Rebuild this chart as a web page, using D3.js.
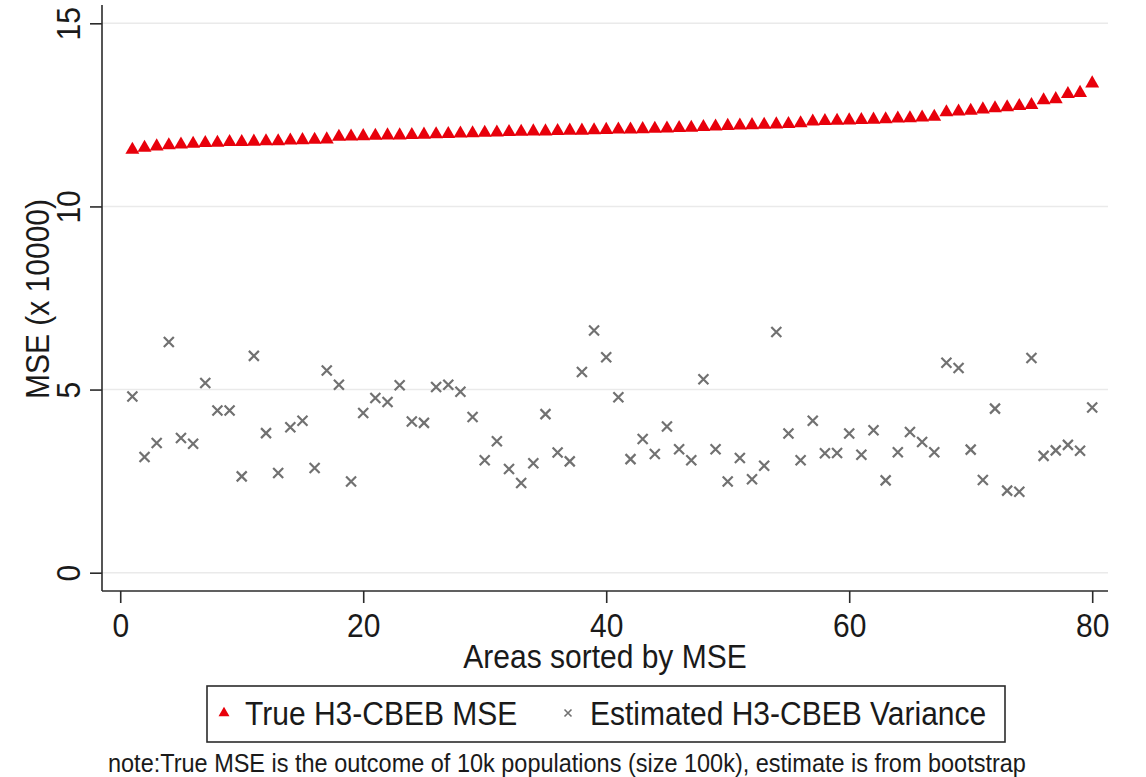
<!DOCTYPE html>
<html>
<head>
<meta charset="utf-8">
<script src="https://cdn.jsdelivr.net/npm/d3@7"></script>
<style>
  html, body { margin: 0; padding: 0; background: #ffffff; }
  svg { display: block; font-family: "Liberation Sans", Arial, sans-serif; }
</style>
</head>
<body>
<svg id="chart" width="1146" height="777"></svg>
<script>
// ---- data ----
const areas = d3.range(1, 81);
const trueMSE = [
  11.55, 11.60, 11.64, 11.67, 11.69, 11.71, 11.73, 11.74, 11.76, 11.76,
  11.77, 11.78, 11.78, 11.80, 11.81, 11.82, 11.83, 11.90, 11.91, 11.92,
  11.93, 11.94, 11.94, 11.95, 11.96, 11.97, 11.98, 11.99, 12.00, 12.01,
  12.02, 12.03, 12.04, 12.05, 12.05, 12.06, 12.07, 12.07, 12.08, 12.09,
  12.10, 12.10, 12.11, 12.12, 12.13, 12.14, 12.15, 12.17, 12.18, 12.20,
  12.21, 12.22, 12.23, 12.24, 12.25, 12.27, 12.32, 12.33, 12.34, 12.35,
  12.36, 12.37, 12.38, 12.40, 12.41, 12.43, 12.45, 12.57, 12.59, 12.61,
  12.65, 12.68, 12.71, 12.74, 12.77, 12.90, 12.93, 13.07, 13.10, 13.36
];
const estVariance = [
  4.81, 3.16, 3.54, 6.30, 3.68, 3.52, 5.18, 4.43, 4.43, 2.63,
  5.92, 3.81, 2.72, 3.97, 4.15, 2.86, 5.52, 5.13, 2.49, 4.36,
  4.77, 4.66, 5.12, 4.13, 4.09, 5.07, 5.13, 4.94, 4.25, 3.07,
  3.59, 2.83, 2.45, 2.99, 4.33, 3.28, 3.04, 5.48, 6.61, 5.88,
  4.79, 3.10, 3.65, 3.24, 3.99, 3.37, 3.07, 5.28, 3.37, 2.49,
  3.13, 2.55, 2.92, 6.57, 3.80, 3.07, 4.15, 3.26, 3.27, 3.80,
  3.22, 3.89, 2.52, 3.29, 3.84, 3.57, 3.29, 5.73, 5.59, 3.36,
  2.53, 4.48, 2.24, 2.21, 5.86, 3.19, 3.34, 3.49, 3.33, 4.51
];
const xTicks = [0, 20, 40, 60, 80];
const yTicks = [0, 5, 10, 15];
const seriesNames = ["True H3-CBEB MSE", "Estimated H3-CBEB Variance"];
const xTitle = "Areas sorted by MSE";
const yTitle = "MSE (x 10000)";
const noteText = "note:True MSE is the outcome of 10k populations (size 100k), estimate is from bootstrap";

// ---- layout ----
const svg = d3.select("#chart");
const plot = { left: 102, right: 1108, top: 5, bottom: 591 };
const x = d3.scaleLinear().domain([-1.5, 81.3]).range([plot.left, plot.right]);
const y = d3.scaleLinear().domain([-0.5, 15.5]).range([plot.bottom, plot.top]);

const axisColor = "#2b2b2b";
const gridColor = "#eaeaea";
const triColor = "#e8000b";
const crossColor = "#717171";
const textColor = "#1a1a1a";
const fontSize = 30;
const stretch = 1.08;   // glyphs in the reference are slightly taller than wide

// gridlines
svg.append("g").selectAll("line").data(yTicks).join("line")
  .attr("x1", plot.left).attr("x2", plot.right)
  .attr("y1", d => y(d)).attr("y2", d => y(d))
  .attr("stroke", gridColor).attr("stroke-width", 1.5);

// axes
const yAxis = d3.axisLeft(y).tickValues(yTicks).tickSize(12).tickPadding(6).tickFormat(d3.format("d"));
const gy = svg.append("g").attr("transform", `translate(${plot.left},0)`).call(yAxis);
gy.select(".domain").attr("d", `M0,${plot.top}V${plot.bottom}`).attr("stroke", axisColor).attr("stroke-width", 1.6);
gy.selectAll(".tick line").attr("stroke", axisColor).attr("stroke-width", 1.6);
gy.selectAll(".tick text")
  .attr("x", null).attr("dy", null)
  .attr("transform", `translate(-22,0) rotate(-90) scale(1,${stretch})`)
  .attr("text-anchor", "middle")
  .attr("font-size", fontSize).attr("fill", textColor)
  .attr("font-family", "Liberation Sans, Arial, sans-serif");

const xAxis = d3.axisBottom(x).tickValues(xTicks).tickSize(12).tickPadding(6).tickFormat(d3.format("d"));
const gx = svg.append("g").attr("transform", `translate(0,${plot.bottom})`).call(xAxis);
gx.select(".domain").attr("d", `M${plot.left},0H${plot.right}`).attr("stroke", axisColor).attr("stroke-width", 1.6);
gx.selectAll(".tick line").attr("stroke", axisColor).attr("stroke-width", 1.6);
gx.selectAll(".tick text")
  .attr("y", null).attr("dy", null)
  .attr("transform", `translate(0,46) scale(1,${stretch})`)
  .attr("font-size", fontSize).attr("fill", textColor)
  .attr("font-family", "Liberation Sans, Arial, sans-serif");

// axis titles
svg.append("text")
  .attr("transform", `translate(605,668) scale(1,${stretch})`)
  .attr("text-anchor", "middle").attr("font-size", fontSize).attr("fill", textColor)
  .text(xTitle);
svg.append("text")
  .attr("transform", `translate(49,299) rotate(-90) scale(1,${stretch})`)
  .attr("text-anchor", "middle").attr("font-size", fontSize).attr("fill", textColor)
  .text(yTitle);

// cross symbol
const crossSym = {
  draw(ctx, size) {
    const r = Math.sqrt(size) / 2;
    ctx.moveTo(-r, -r); ctx.lineTo(r, r);
    ctx.moveTo(-r, r); ctx.lineTo(r, -r);
  }
};

// estimated variance crosses
svg.append("g").selectAll("path").data(areas).join("path")
  .attr("transform", (d, i) => `translate(${x(d)},${y(estVariance[i])})`)
  .attr("d", d3.symbol(crossSym, 100)())
  .attr("fill", "none").attr("stroke", crossColor).attr("stroke-width", 2.2);

// true MSE triangles
svg.append("g").selectAll("path").data(areas).join("path")
  .attr("transform", (d, i) => `translate(${x(d)},${y(trueMSE[i])})`)
  .attr("d", d3.symbol(d3.symbolTriangle, 84)())
  .attr("fill", triColor);

// legend
const lg = svg.append("g");
lg.append("rect")
  .attr("x", 207).attr("y", 686).attr("width", 798).attr("height", 56)
  .attr("fill", "#ffffff").attr("stroke", axisColor).attr("stroke-width", 1.6);
lg.append("path")
  .attr("transform", "translate(224,713)")
  .attr("d", d3.symbol(d3.symbolTriangle, 52)())
  .attr("fill", triColor);
lg.append("text")
  .attr("transform", `translate(245,725) scale(1,${stretch})`)
  .attr("font-size", 30).attr("fill", textColor).text(seriesNames[0]);
lg.append("path")
  .attr("transform", "translate(568,713)")
  .attr("d", d3.symbol(crossSym, 49)())
  .attr("fill", "none").attr("stroke", crossColor).attr("stroke-width", 1.6);
lg.append("text")
  .attr("transform", `translate(590,725) scale(1,${stretch})`)
  .attr("font-size", 30).attr("fill", textColor).text(seriesNames[1]);

// note
svg.append("text")
  .attr("transform", `translate(108,772) scale(1,${stretch})`)
  .attr("font-size", 23.5).attr("fill", textColor).text(noteText);
</script>
</body>
</html>
